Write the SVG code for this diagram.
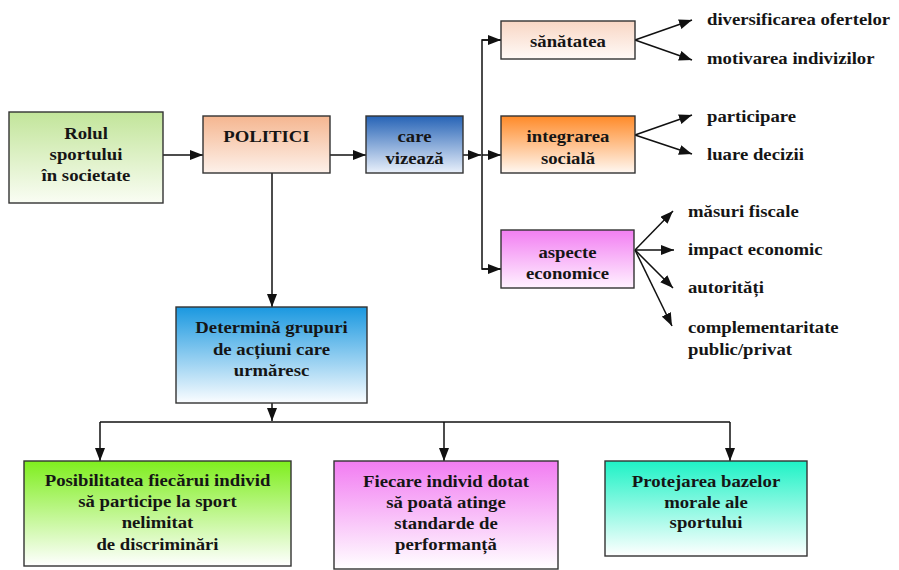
<svg xmlns="http://www.w3.org/2000/svg" width="899" height="570" viewBox="0 0 899 570">
<style>
.box{stroke:#333;stroke-width:1.4}
.t{font-weight:bold;font-size:16px;fill:#151515;text-anchor:middle}
.l{font-weight:bold;font-size:16px;fill:#151515;text-anchor:start}
.c{stroke:#111;stroke-width:1.5;fill:none}
.ca{stroke:#111;stroke-width:1.5;fill:none;marker-end:url(#ah)}
</style>
<defs>
<marker id="ah" markerUnits="userSpaceOnUse" markerWidth="13" markerHeight="10" refX="13" refY="5" orient="auto">
<path d="M0,0 L13,5 L0,10 z" fill="#111"/>
</marker>
<linearGradient id="gRol" x1="0" y1="0" x2="0" y2="1"><stop offset="0" stop-color="#c2e59a"/><stop offset="1" stop-color="#fafdf4"/></linearGradient>
<linearGradient id="gPol" x1="0" y1="0" x2="0" y2="1"><stop offset="0" stop-color="#f5b690"/><stop offset="1" stop-color="#fdf1ea"/></linearGradient>
<linearGradient id="gCare" x1="0" y1="0" x2="0" y2="1"><stop offset="0" stop-color="#2663b6"/><stop offset="1" stop-color="#eaf1fb"/></linearGradient>
<linearGradient id="gSan" x1="0" y1="0" x2="0" y2="1"><stop offset="0" stop-color="#f8d6c4"/><stop offset="1" stop-color="#fffaf7"/></linearGradient>
<linearGradient id="gInt" x1="0" y1="0" x2="0" y2="1"><stop offset="0" stop-color="#ff8a28"/><stop offset="1" stop-color="#fff8f2"/></linearGradient>
<linearGradient id="gAsp" x1="0" y1="0" x2="0" y2="1"><stop offset="0" stop-color="#f27ef2"/><stop offset="1" stop-color="#fff2ff"/></linearGradient>
<linearGradient id="gDet" x1="0" y1="0" x2="0" y2="1"><stop offset="0" stop-color="#1a98e0"/><stop offset="1" stop-color="#fbfdff"/></linearGradient>
<linearGradient id="gB1" x1="0" y1="0" x2="0" y2="1"><stop offset="0" stop-color="#7fee1e"/><stop offset="1" stop-color="#ffffff"/></linearGradient>
<linearGradient id="gB2" x1="0" y1="0" x2="0" y2="1"><stop offset="0" stop-color="#f27cf2"/><stop offset="1" stop-color="#ffffff"/></linearGradient>
<linearGradient id="gB3" x1="0" y1="0" x2="0" y2="1"><stop offset="0" stop-color="#1ef2c6"/><stop offset="1" stop-color="#ffffff"/></linearGradient>
</defs>
<rect width="899" height="570" fill="#ffffff"/>

<g id="connectors">
<line class="ca" x1="163" y1="155" x2="203" y2="155"/>
<line class="ca" x1="330" y1="155" x2="366" y2="155"/>
<line class="ca" x1="463" y1="155" x2="481" y2="155"/>
<line class="ca" x1="482" y1="155" x2="501" y2="155"/>
<polyline class="c" points="501,40 482,40 482,269 501,269"/>
<line class="ca" x1="482" y1="40" x2="501" y2="40"/>
<line class="ca" x1="482" y1="269" x2="501" y2="269"/>
<line class="ca" x1="635" y1="40" x2="692" y2="20"/>
<line class="ca" x1="635" y1="40" x2="692" y2="60"/>
<line class="ca" x1="635" y1="135" x2="692" y2="115"/>
<line class="ca" x1="635" y1="135" x2="692" y2="154"/>
<line class="ca" x1="635" y1="250" x2="673" y2="211"/>
<line class="ca" x1="635" y1="250" x2="674" y2="250"/>
<line class="ca" x1="635" y1="250" x2="673" y2="288"/>
<line class="ca" x1="635" y1="250" x2="672" y2="326"/>
<line class="ca" x1="272" y1="173" x2="272" y2="307"/>
<line class="ca" x1="272" y1="403" x2="272" y2="421"/>
<line class="c" x1="100" y1="422" x2="730" y2="422"/>
<line class="ca" x1="100" y1="422" x2="100" y2="461"/>
<line class="ca" x1="444" y1="422" x2="444" y2="461"/>
<line class="ca" x1="730" y1="422" x2="730" y2="461"/>
</g>

<g font-family="'Liberation Serif', 'Times New Roman', serif">
<g id="rolul">
<rect class="box" x="9" y="112" width="154" height="91" fill="url(#gRol)"/>
<text class="t" transform="translate(86,0) scale(1.17,1)"><tspan x="0" y="139">Rolul</tspan><tspan x="0" y="160">sportului</tspan><tspan x="0" y="181">în societate</tspan></text>
</g>
<g id="politici">
<rect class="box" x="203" y="116" width="127" height="57" fill="url(#gPol)"/>
<text class="t" transform="translate(266.5,0) scale(1.17,1)"><tspan x="0" y="142">POLITICI</tspan></text>
</g>
<g id="care">
<rect class="box" x="366" y="116" width="97" height="57" fill="url(#gCare)"/>
<text class="t" transform="translate(414.5,0) scale(1.17,1)"><tspan x="0" y="142">care</tspan><tspan x="0" y="164">vizează</tspan></text>
</g>
<g id="sanatatea">
<rect class="box" x="501" y="21" width="134" height="38" fill="url(#gSan)"/>
<text class="t" transform="translate(568,0) scale(1.17,1)"><tspan x="0" y="47">sănătatea</tspan></text>
</g>
<g id="integrarea">
<rect class="box" x="501" y="116" width="134" height="57" fill="url(#gInt)"/>
<text class="t" transform="translate(568,0) scale(1.17,1)"><tspan x="0" y="142">integrarea</tspan><tspan x="0" y="164">socială</tspan></text>
</g>
<g id="aspecte">
<rect class="box" x="501" y="230" width="133" height="58" fill="url(#gAsp)"/>
<text class="t" transform="translate(567.5,0) scale(1.17,1)"><tspan x="0" y="258">aspecte</tspan><tspan x="0" y="279">economice</tspan></text>
</g>
<g id="san-items">
<text class="l" transform="translate(707,25) scale(1.17,1)">diversificarea ofertelor</text>
<text class="l" transform="translate(707,64) scale(1.17,1)">motivarea indivizilor</text>
</g>
<g id="int-items">
<text class="l" transform="translate(707,122) scale(1.17,1)">participare</text>
<text class="l" transform="translate(707,160) scale(1.17,1)">luare decizii</text>
</g>
<g id="asp-items">
<text class="l" transform="translate(688,217) scale(1.17,1)">măsuri fiscale</text>
<text class="l" transform="translate(688,255) scale(1.17,1)">impact economic</text>
<text class="l" transform="translate(688,293) scale(1.17,1)">autorități</text>
<text class="l" transform="translate(688,333) scale(1.17,1)">complementaritate</text>
<text class="l" transform="translate(688,355) scale(1.17,1)">public/privat</text>
</g>
<g id="determina">
<rect class="box" x="176" y="307" width="191" height="96" fill="url(#gDet)"/>
<text class="t" transform="translate(271.5,0) scale(1.17,1)"><tspan x="0" y="333">Determină grupuri</tspan><tspan x="0" y="355">de acțiuni care</tspan><tspan x="0" y="376">urmăresc</tspan></text>
</g>
<g id="posibilitatea">
<rect class="box" x="24" y="461" width="267" height="105" fill="url(#gB1)"/>
<text class="t" transform="translate(157.5,0) scale(1.17,1)"><tspan x="0" y="486">Posibilitatea fiecărui individ</tspan><tspan x="0" y="507">să participe la sport</tspan><tspan x="0" y="528">nelimitat</tspan><tspan x="0" y="550">de discriminări</tspan></text>
</g>
<g id="fiecare">
<rect class="box" x="334" y="461" width="224" height="108" fill="url(#gB2)"/>
<text class="t" transform="translate(446,0) scale(1.17,1)"><tspan x="0" y="487">Fiecare individ dotat</tspan><tspan x="0" y="508">să poată atinge</tspan><tspan x="0" y="529">standarde de</tspan><tspan x="0" y="550">performanță</tspan></text>
</g>
<g id="protejarea">
<rect class="box" x="605" y="461" width="202" height="95" fill="url(#gB3)"/>
<text class="t" transform="translate(706,0) scale(1.17,1)"><tspan x="0" y="487">Protejarea bazelor</tspan><tspan x="0" y="508">morale ale</tspan><tspan x="0" y="528">sportului</tspan></text>
</g>
</g>
</svg>
